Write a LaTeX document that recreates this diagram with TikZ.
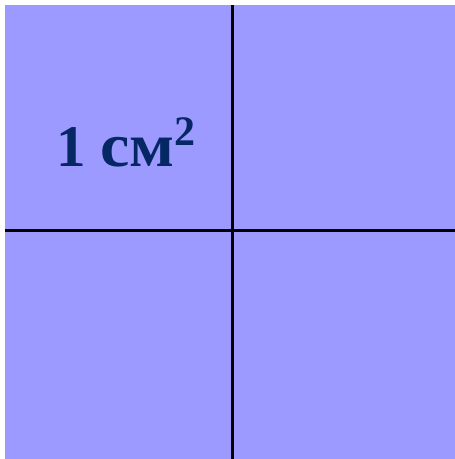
\documentclass[tikz,border=0pt]{standalone}
\usepackage{fontspec}
\setmainfont{Liberation Serif}
\definecolor{sqfill}{RGB}{156,153,255}
\definecolor{txtcol}{RGB}{5,40,100}
\newcommand{\bigsup}[1]{\raisebox{21pt}{\fontsize{42}{42}\selectfont\bfseries #1}}
\begin{document}
\begin{tikzpicture}[x=1pt,y=1pt,
  divider/.style={draw=black,line width=3pt},
  label/.style={font=\fontsize{59}{59}\selectfont\bfseries,text=txtcol,inner sep=0pt}]
\useasboundingbox (0,0) rectangle (455,459);
\fill[sqfill] (5,0) rectangle (455,454);
\coordinate (vt) at (232,454);
\coordinate (vb) at (232,0);
\coordinate (hl) at (5,228);
\coordinate (hr) at (455,228);
\draw[divider] (vt) -- (vb);
\draw[divider] (hl) -- (hr);
\node[label,anchor=base west] (area) at (56,292) {1 \scalebox{1.12}[1.05]{см}\bigsup{2}};
\end{tikzpicture}
\end{document}
